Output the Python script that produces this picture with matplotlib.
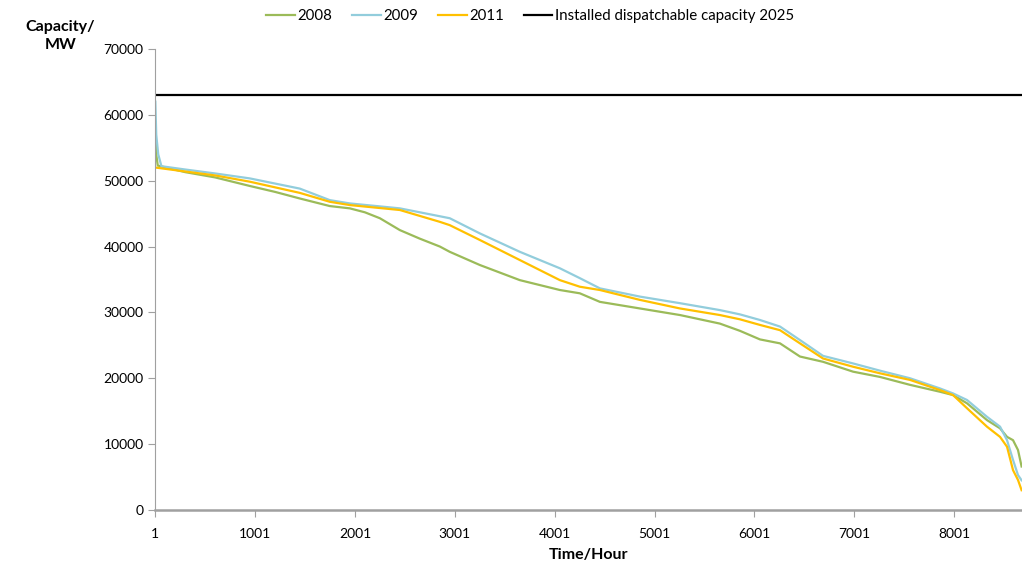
import numpy as np
import matplotlib.pyplot as plt

plt.rcParams['font.family'] = ['Lato', 'DejaVu Sans']

# Load duration curves, capacity in MW, read at sorted hour positions
hours_2008 = [1, 10, 25, 300, 600, 947, 1200, 1448, 1748, 1949, 2100, 2250, 2450,
              2650, 2851, 2950, 3251, 3652, 4053, 4253, 4454, 4855, 5256, 5656,
              5857, 6057, 6258, 6458, 6689, 6990, 7260, 7560, 7861, 7991, 8131,
              8331, 8462, 8532, 8592, 8642, 8678]
cap_2008 = [57500, 54000, 52300, 51300, 50500, 49200, 48300, 47300, 46150, 45800,
            45200, 44300, 42500, 41200, 40000, 39200, 37200, 34900, 33400, 32900,
            31600, 30600, 29600, 28300, 27200, 25900, 25300, 23300, 22500, 21000,
            20200, 19000, 17950, 17450, 16200, 13650, 12400, 11100, 10600, 9100,
            6600]

hours_2009 = [1, 10, 30, 62, 300, 600, 947, 1448, 1748, 1949, 2450, 2851, 2950,
              3251, 3652, 4053, 4253, 4454, 4855, 5256, 5656, 5857, 6057, 6258,
              6458, 6689, 6990, 7260, 7560, 7861, 7991, 8131, 8331, 8462, 8532,
              8592, 8642, 8678]
cap_2009 = [62000, 57000, 54000, 52200, 51700, 51100, 50350, 48800, 47050, 46550,
            45800, 44600, 44300, 42000, 39200, 36700, 35200, 33650, 32400, 31400,
            30350, 29700, 28850, 27850, 25800, 23400, 22250, 21150, 20000, 18450,
            17700, 16700, 14150, 12650, 10600, 7600, 5300, 4500]

hours_2011 = [1, 300, 600, 947, 1448, 1748, 1949, 2450, 2851, 2950, 3251, 3652,
              4053, 4253, 4454, 4855, 5256, 5656, 5857, 6057, 6258, 6458, 6689,
              6990, 7260, 7560, 7861, 7991, 8131, 8331, 8462, 8532, 8592, 8642,
              8678]
cap_2011 = [52000, 51400, 50800, 49850, 48150, 46800, 46300, 45550, 43750, 43250,
            41000, 37950, 34900, 33900, 33400, 31900, 30600, 29600, 28950, 28100,
            27300, 25300, 23000, 21750, 20750, 19750, 18200, 17450, 15450, 12650,
            11100, 9600, 6050, 4550, 3000]

installed_2025 = 63000

x_ticks = [1, 1001, 2001, 3001, 4001, 5001, 6001, 7001, 8001]
y_ticks = [0, 10000, 20000, 30000, 40000, 50000, 60000, 70000]

fig = plt.figure(figsize=(10.22, 5.73), dpi=100)
ax = fig.add_axes([0.152, 0.110, 0.848, 0.8045])

ax.plot(hours_2008, cap_2008, color='#9BBB59', linewidth=1.6, label='2008')
ax.plot(hours_2009, cap_2009, color='#92CDDC', linewidth=1.6, label='2009')
ax.plot(hours_2011, cap_2011, color='#FFC000', linewidth=1.6, label='2011')
ax.plot([1, 8682], [installed_2025, installed_2025], color='black', linewidth=1.6,
        label='Installed dispatchable capacity 2025')

ax.set_xlim(1, 8682)
ax.set_ylim(0, 70000)
ax.set_xticks(x_ticks)
ax.set_yticks(y_ticks)
ax.tick_params(axis='both', direction='out', length=5, color='#A0A0A0', labelsize=10)
ax.tick_params(axis='x', pad=8)

for side in ('top', 'right'):
    ax.spines[side].set_visible(False)
ax.spines['left'].set_color('#A0A0A0')
ax.spines['bottom'].set_color('#A0A0A0')
ax.spines['bottom'].set_linewidth(1.8)

ax.set_xlabel('Time/Hour', fontsize=11.5, fontweight='bold', labelpad=6)
fig.text(0.059, 0.937, 'Capacity/\nMW', fontsize=11.5, fontweight='bold',
         ha='center', va='center', linespacing=1.3)

fig.legend(loc='upper center', bbox_to_anchor=(0.519, 1.008), ncol=4, frameon=False,
           fontsize=10.8, handlelength=1.9, handletextpad=0.2, columnspacing=1.3)

fig.savefig('out.png', dpi=100)
